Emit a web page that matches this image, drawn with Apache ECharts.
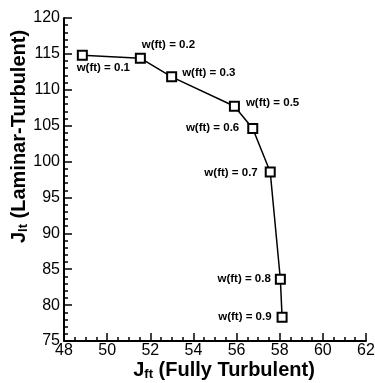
<!DOCTYPE html>
<html>
<head>
<meta charset="utf-8">
<script src="https://cdn.jsdelivr.net/npm/echarts@6/dist/echarts.min.js"></script>
<style>
    html, body { margin: 0; padding: 0; background: #fff; }
    #chart { width: 375px; height: 383px; }
</style>
</head>
<body>
<div id="chart"></div>
<script>
    // values
    var weights = ['0.1', '0.2', '0.3', '0.5', '0.6', '0.7', '0.8', '0.9'];
    var jFullyTurbulent = [48.85, 51.54, 52.99, 55.90, 56.75, 57.56, 58.03, 58.11];
    var jLaminarTurbulent = [114.8, 114.4, 111.8, 107.7, 104.6, 98.55, 83.6, 78.3];
    var xTicks = [48, 50, 52, 54, 56, 58, 60, 62];
    var yTicks = [75, 80, 85, 90, 95, 100, 105, 110, 115, 120];

    // where each w(ft) label sits around its marker
    var labelPlace = [
        { position: 'bottom', offset: [21, -4] },
        { position: 'top', offset: [28, 3] },
        { position: 'right', offset: [0, -4] },
        { position: 'right', offset: [1, -3] },
        { position: 'left', offset: [-3, -1] },
        { position: 'left', offset: [-2, 1] },
        { position: 'left', offset: [1, 0] },
        { position: 'left', offset: [0, 0] }
    ];

    var font = 'Liberation Sans, Arial, Helvetica, sans-serif';
    var points = jFullyTurbulent.map(function (x, i) {
        return {
            value: [x, jLaminarTurbulent[i]],
            label: {
                show: true,
                formatter: 'w(ft) = ' + weights[i],
                position: labelPlace[i].position,
                offset: labelPlace[i].offset,
                distance: 5
            }
        };
    });

    var titleRich = {
        b: { fontFamily: font, fontWeight: 'bold', fontSize: 20, color: '#000' },
        s: { fontFamily: font, fontWeight: 'bold', fontSize: 13, color: '#000', padding: [9, 0, 0, 0] }
    };

    var myChart = echarts.init(document.getElementById('chart'));
    myChart.setOption({
        animation: false,
        grid: { left: 64, right: 9, top: 18, bottom: 42, outerBoundsMode: 'none', containLabel: false },
        xAxis: {
            type: 'value',
            min: xTicks[0],
            max: xTicks[xTicks.length - 1],
            interval: 2,
            name: '{b|J}{s|ft}{b| (Fully Turbulent)}',
            nameLocation: 'middle',
            nameGap: 18,
            nameMoveOverlap: false,
            nameTextStyle: { padding: [0, 0, 0, 18], rich: titleRich },
            axisLine: { lineStyle: { color: '#000', width: 2 } },
            axisTick: { inside: true, length: 8, lineStyle: { color: '#000', width: 1.5 } },
            minorTick: { show: true, splitNumber: 4, length: 4, lineStyle: { color: '#000', width: 1.5 } },
            axisLabel: { color: '#000', fontFamily: font, fontSize: 16, margin: 2 },
            splitLine: { show: false }
        },
        yAxis: {
            type: 'value',
            min: yTicks[0],
            max: yTicks[yTicks.length - 1],
            interval: 5,
            name: '{b|J}{s|lt}{b| (Laminar-Turbulent)}',
            nameLocation: 'middle',
            nameGap: 34,
            nameMoveOverlap: false,
            nameTextStyle: { padding: [0, 0, 0, 86], rich: titleRich },
            axisLine: { lineStyle: { color: '#000', width: 2 } },
            axisTick: { inside: true, length: 8, lineStyle: { color: '#000', width: 1.5 } },
            minorTick: { show: true, splitNumber: 5, length: 4, lineStyle: { color: '#000', width: 1.5 } },
            axisLabel: { color: '#000', fontFamily: font, fontSize: 16, margin: 4 },
            splitLine: { show: false }
        },
        series: [{
            type: 'line',
            data: points,
            symbol: 'rect',
            symbolSize: 9,
            itemStyle: { color: '#fff', borderColor: '#000', borderWidth: 2 },
            lineStyle: { color: '#000', width: 1.5 },
            label: {
                color: '#000',
                fontFamily: font,
                fontWeight: 'bold',
                fontSize: 11.5
            }
        }]
    });
</script>
</body>
</html>
